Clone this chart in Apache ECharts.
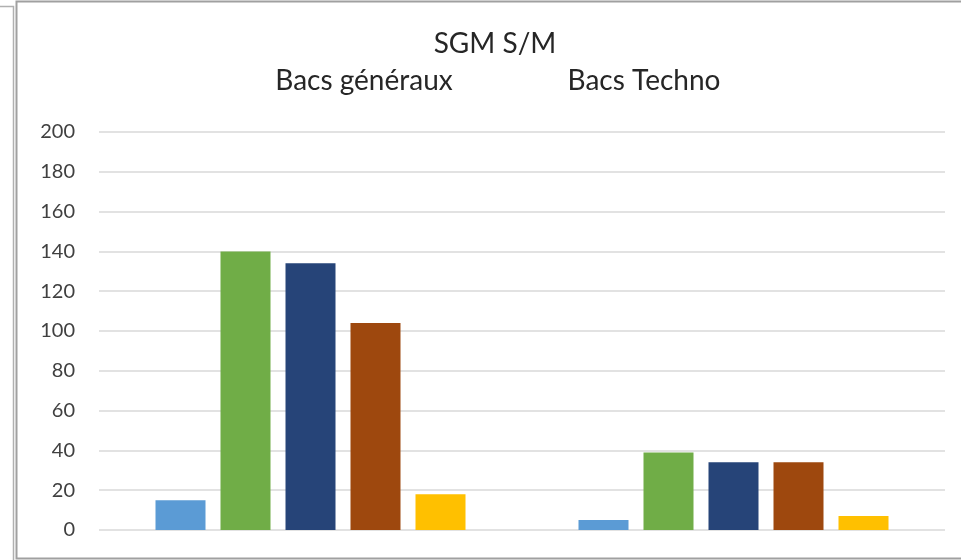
<!DOCTYPE html>
<html>
<head>
<meta charset="utf-8">
<script src="https://cdn.jsdelivr.net/npm/echarts@6/dist/echarts.min.js"></script>
<style>
  html, body { margin: 0; padding: 0; background: #fff; }
  #chart { width: 961px; height: 560px; }
</style>
</head>
<body>
<div id="chart"></div>
<script>
// categories and series
const categories = ["Bacs généraux", "Bacs Techno"];
const seriesNames = ["S1", "S2", "S3", "S4", "S5"];
const s1 = [15, 5];
const s2 = [140, 39];
const s3 = [134, 34];
const s4 = [104, 34];
const s5 = [18, 7];
const yTicks = [0, 20, 40, 60, 80, 100, 120, 140, 160, 180, 200];

const colors = ["#5b9bd5", "#70ad47", "#264478", "#9e480e", "#ffc000"];
const font = "Lato, 'Open Sans', sans-serif";

const chart = echarts.init(document.getElementById("chart"));
const allValues = [s1, s2, s3, s4, s5];

chart.setOption({
  animation: false,
  color: colors,
  title: [
    { text: "SGM S/M", left: 490, top: 25, textAlign: "center",
      textStyle: { fontFamily: font, fontSize: 28, fontWeight: "normal", color: "#262626" } },
    { text: categories[0], left: 359, top: 62, textAlign: "center",
      textStyle: { fontFamily: font, fontSize: 28, fontWeight: "normal", color: "#262626" } },
    { text: categories[1], left: 639, top: 62, textAlign: "center",
      textStyle: { fontFamily: font, fontSize: 28, fontWeight: "normal", color: "#262626" } }
  ],
  graphic: [
    { type: "rect", shape: { x: 16.5, y: 1.5, width: 950, height: 557 },
      style: { fill: "none", stroke: "#a0a0a0", lineWidth: 2 } },
    { type: "polyline", shape: { points: [[0, 6.5], [13.5, 6.5], [13.5, 560]] },
      style: { fill: "none", stroke: "#b0b0b0", lineWidth: 1.5 } }
  ],
  grid: { left: 99, right: 16, top: 132, bottom: 30 },
  xAxis: {
    type: "category",
    data: categories,
    axisLine: { show: false },
    axisTick: { show: false },
    axisLabel: { show: false }
  },
  yAxis: {
    type: "value",
    min: 0,
    max: yTicks[yTicks.length - 1],
    interval: 20,
    axisLine: { show: false },
    axisTick: { show: false },
    axisLabel: { fontFamily: font, fontSize: 20, color: "#404040", margin: 24 },
    splitLine: { lineStyle: { color: "#d9d9d9", width: 1.5 } }
  },
  series: seriesNames.map((name, i) => ({
    name: name,
    type: "bar",
    data: allValues[i],
    barWidth: 50,
    barGap: "30%",
    itemStyle: { color: colors[i] }
  }))
});
</script>
</body>
</html>
